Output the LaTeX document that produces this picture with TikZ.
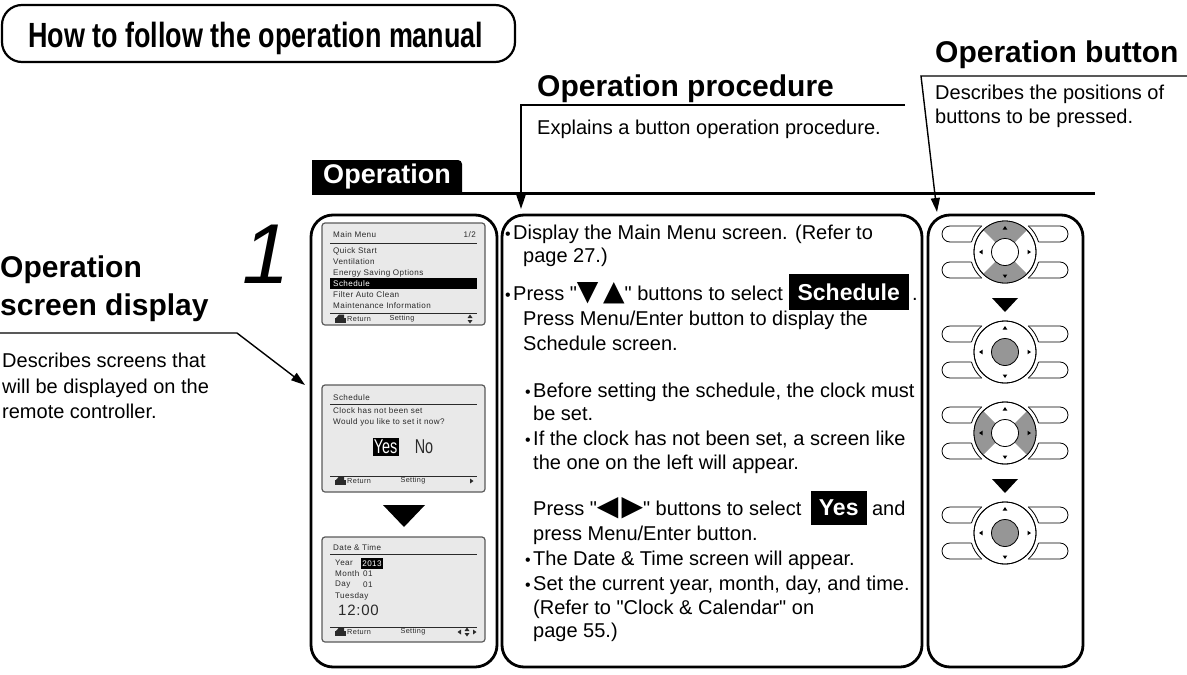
\documentclass[tikz,border=0pt]{standalone}
\usepackage{fontspec}
\setmainfont{Liberation Sans}
\newfontfamily\plainfont{Liberation Sans}
\newfontfamily\symfont{DejaVu Sans}
\newfontfamily\titlefont[FakeStretch=0.77]{Liberation Sans Bold}
\newfontfamily\narrowfont[FakeStretch=0.72]{Liberation Sans}
\newfontfamily\lcdfont[LetterSpace=5]{Liberation Sans}
\usetikzlibrary{arrows.meta,positioning}

\definecolor{scrfill}{HTML}{E9E9E9}
\definecolor{scredge}{HTML}{5A5A5A}
\definecolor{lcdtext}{HTML}{2A2A2A}
\definecolor{btngray}{HTML}{969696}

\tikzset{
  colbox/.style={draw, line width=2.8pt, rounded corners=22pt, inner sep=0pt},
  leader/.style={line width=1.4pt, -{Triangle[length=14pt,width=9pt]}},
  heading/.style={font=\fontsize{30}{30}\selectfont\bfseries, inner sep=0pt, anchor=base west},
  body/.style={font=\plainfont\fontsize{20}{25}\selectfont, inner sep=0pt, anchor=base west},
  screen/.style={draw=scredge, fill=scrfill, line width=1.2pt, rounded corners=3pt},
  lcd/.style={font=\lcdfont\fontsize{8.1}{9}\selectfont, text=lcdtext, inner sep=0pt, anchor=west},
  lcdfoot/.style={font=\lcdfont\fontsize{7.3}{8}\selectfont, text=lcdtext, inner sep=0pt},
  lcdrule/.style={line width=0.9pt, draw=lcdtext},
}

% Aufzaehlungspunkt
\newcommand{\bul}{\makebox[8pt][l]{\fontsize{16}{16}\selectfont •}}
% Zurueck-Symbol im Display
\newcommand{\retkey}[2]{%
  \fill[lcdtext] (#1,#2-1) rectangle (#1+11,#2+3.5);
  \fill[lcdtext] (#1+1,#2-1) -- (#1+4,#2-4.5) -- (#1+9,#2-4.5) -- (#1+9,#2-1) -- cycle;}

\begin{document}
\begin{tikzpicture}[x=1pt, y=-1pt]
  \useasboundingbox (0,0) rectangle (1187,675);

  % Titel
  \draw[line width=2.2pt, rounded corners=20pt] (2,5) rectangle (515,62);
  \node[anchor=base west, inner sep=0pt, font=\titlefont\fontsize{35}{35}\selectfont] (title) at (28,47) {How to follow the operation manual};

  % Ueberschriften und Hinweise
  \node[heading] (scrhead) at (0,277) {Operation};
  \node[heading] (scrhead2) at (0,315) {screen display};
  \coordinate (scrbend) at (237,333);
  \coordinate (scrtip) at (305,385);
  \draw[leader] (0,333) -- (scrbend) -- (scrtip);
  \node[body] (scrdesc1) at (2,367) {Describes screens that};
  \node[body] (scrdesc2) at (2,393) {will be displayed on the};
  \node[body] (scrdesc3) at (2,418) {remote controller.};

  \node[heading] (prochead) at (537,96) {Operation procedure};
  \coordinate (procend) at (905,105);
  \coordinate (procbend) at (521,105);
  \coordinate (proctip) at (521,209);
  \draw[leader] (procend) -- (procbend) -- (proctip);
  \node[body] (procdesc) at (537,134) {Explains a button operation procedure.};

  \node[heading] (btnhead) at (935,62) {Operation button};
  \coordinate (btnend) at (1187,76);
  \coordinate (btnbend) at (921,76);
  \coordinate (btntip) at (937,212);
  \draw[leader] (btnend) -- (btnbend) -- (btntip);
  \node[body] (btndesc1) at (935,99) {Describes the positions of};
  \node[body] (btndesc2) at (935,123) {buttons to be pressed.};

  % Reiter
  \fill (312,193) -- (312,160) [rounded corners=4pt] -- (462,160) [sharp corners] -- (462,193) -- cycle;
  \node[text=white, inner sep=0pt, font=\fontsize{27}{27}\selectfont\bfseries] (optab) at (387,177) {Operation};
  \draw[line width=3pt] (312,193) -- (1095,193);
  \node[anchor=base, inner sep=0pt, font=\itshape\fontsize{85}{85}\selectfont] (stepno) at (266,283) {1};

  % Spalten
  \node[colbox, minimum width=186pt, minimum height=452pt] (scrcol) at (404,441) {};
  \node[colbox, minimum width=420pt, minimum height=452pt] (proccol) at (712,441) {};
  \node[colbox, minimum width=155pt, minimum height=452pt] (btncol) at (1005.5,441) {};

  % Display 1: Hauptmenue
  \draw[screen] (322,223) rectangle (485,325);
  \node[lcd] (mmtitle) at (333,235) {Main Menu};
  \node[lcd, anchor=east] (mmpage) at (476,235) {1/2};
  \draw[lcdrule] (330,243) -- (477,243);
  \fill[black] (330,278) rectangle (477,289);
  \foreach \item [count=\i] in {Quick Start, Ventilation, Energy Saving Options, Schedule, Filter Auto Clean, Maintenance Information} {
    \ifnum\i=4 \def\ink{white}\else\def\ink{lcdtext}\fi
    \node[lcd, text=\ink] (mm\i) at (333,240+11*\i) {\item};
  }
  \draw[lcdrule] (330,313) -- (477,313);
  \retkey{335}{319}
  \node[lcdfoot, anchor=west] (mmret) at (347,319) {Return};
  \node[lcdfoot] (mmset) at (402,319) {Setting};
  \fill[lcdtext] (470,314.5) -- (472.5,318) -- (467.5,318) -- cycle;
  \fill[lcdtext] (470,323.5) -- (472.5,320) -- (467.5,320) -- cycle;

  % Display 2: Schedule
  \draw[screen] (322,385) rectangle (485,492);
  \node[lcd] (sctitle) at (333,398) {Schedule};
  \draw[lcdrule] (330,404) -- (477,404);
  \node[lcd] (scl1) at (333,411) {Clock has not been set};
  \node[lcd] (scl2) at (333,422) {Would you like to set it now?};
  \node[fill=black, text=white, inner sep=0pt, minimum width=26pt, minimum height=18pt, font=\narrowfont\fontsize{20}{20}\selectfont] (scyes) at (385.5,447) {Yes};
  \node[text=lcdtext, inner sep=0pt, font=\narrowfont\fontsize{20}{20}\selectfont] (scno) at (424,447) {No};
  \draw[lcdrule] (330,476) -- (477,476);
  \retkey{335}{481}
  \node[lcdfoot, anchor=west] (scret) at (347,481) {Return};
  \node[lcdfoot] (scset) at (413,481) {Setting};
  \fill[lcdtext] (470,478.5) -- (473.5,481) -- (470,483.5) -- cycle;

  \fill (383,505) -- (425,505) -- (404,527) -- cycle;

  % Display 3: Datum und Uhrzeit
  \draw[screen] (322,537) rectangle (485,642);
  \node[lcd] (dttitle) at (333,548) {Date \& Time};
  \draw[lcdrule] (330,554) -- (477,554);
  \node[lcd] (dtyear) at (335,563) {Year};
  \node[lcd, fill=black, text=white, anchor=center, minimum width=22pt, minimum height=11pt] (dtval) at (372,563.5) {2013};
  \node[lcd] (dtmonth) at (335,574) {Month};
  \node[lcd] (dtmval) at (363,574) {01};
  \node[lcd] (dtday) at (335,585) {Day};
  \node[lcd] (dtdval) at (363,585) {01};
  \node[lcd] (dtwk) at (335,596) {Tuesday};
  \node[lcd, font=\lcdfont\fontsize{15}{15}\selectfont] (dtclock) at (338,610) {12:00};
  \draw[lcdrule] (330,627) -- (477,627);
  \retkey{335}{632}
  \node[lcdfoot, anchor=west] (dtret) at (347,632) {Return};
  \node[lcdfoot] (dtset) at (413,632) {Setting};
  \fill[lcdtext] (461,629.5) -- (457.5,632) -- (461,634.5) -- cycle;
  \fill[lcdtext] (467,627.5) -- (469.5,631) -- (464.5,631) -- cycle;
  \fill[lcdtext] (467,636.5) -- (469.5,633) -- (464.5,633) -- cycle;
  \fill[lcdtext] (473,629.5) -- (476.5,632) -- (473,634.5) -- cycle;

  % Bedienschritte
  \node[body] (p1) at (505,239) {\bul Display the Main Menu screen. (Refer to};
  \node[body] (p2) at (523,262) {page 27.)};
  \node[body] (p3) at (505,300) {\bul Press "{\symfont\fontsize{28}{20}\selectfont ▼\,▲}" buttons to select {\setlength{\fboxsep}{9pt}\colorbox{black}{\rule[-1pt]{0pt}{16pt}\color{white}\bfseries\fontsize{23}{23}\selectfont Schedule}}\,.};
  \node[body] (p4) at (523,325) {Press Menu/Enter button to display the};
  \node[body] (p5) at (523,350) {Schedule screen.};
  \node[body] (p6) at (525,397) {\bul Before setting the schedule, the clock must};
  \node[body] (p7) at (533,420) {be set.};
  \node[body] (p8) at (525,445) {\bul If the clock has not been set, a screen like};
  \node[body] (p9) at (533,469) {the one on the left will appear.};
  \node[body] (p10) at (533,515) {Press "{\symfont\fontsize{28}{20}\selectfont ◀\kern3pt▶}" buttons to select\hspace{4pt} {\setlength{\fboxsep}{8pt}\colorbox{black}{\rule[-2pt]{0pt}{18pt}\color{white}\bfseries\fontsize{23}{23}\selectfont Yes}} and};
  \node[body] (p11) at (533,540) {press Menu/Enter button.};
  \node[body] (p12) at (525,565) {\bul The Date \& Time screen will appear.};
  \node[body] (p13) at (525,590) {\bul Set the current year, month, day, and time.};
  \node[body] (p14) at (533,614) {(Refer to "Clock \& Calendar" on};
  \node[body] (p15) at (533,637) {page 55.)};

  % Bedienknoepfe
  \foreach \cy/\secA/\secD/\hub in {252/45/90/white, 352/0/0/btngray, 433/135/90/white, 533/0/0/btngray} {
    \begin{scope}[shift={(1005,\cy)}]
      \foreach \sx in {-1,1}
        \foreach \sy in {-1,1}
          \draw[line width=0.8pt, fill=white, rounded corners=8pt] (\sx*63,\sy*10) rectangle (\sx*5,\sy*26);
      \fill[white] (0,0) circle[radius=35];
      \foreach \a in {16.6,132,196.6,312}
        \draw[line width=0.8pt] (\a:35) arc[start angle=\a, delta angle=31.4, radius=35];
      \draw[line width=0.8pt, fill=white] (0,0) circle[radius=31];
      \ifnum\secD>0
        \fill[btngray] (0,0) -- (\secA:31) arc[start angle=\secA, delta angle=\secD, radius=31] -- cycle;
        \fill[btngray] (0,0) -- (\secA+180:31) arc[start angle=\secA+180, delta angle=\secD, radius=31] -- cycle;
      \fi
      \draw[line width=0.8pt] (0,0) circle[radius=31];
      \draw[line width=0.8pt, fill=\hub] (0,0) circle[radius=13.5];
      \foreach \r in {0,90,180,270}
        \fill[rotate=\r] (26,0) -- (22.5,-2.3) -- (22.5,2.3) -- cycle;
    \end{scope}
  }
  \fill (992,298) -- (1018,298) -- (1005,312) -- cycle;
  \fill (992,479) -- (1018,479) -- (1005,493) -- cycle;
\end{tikzpicture}
\end{document}
